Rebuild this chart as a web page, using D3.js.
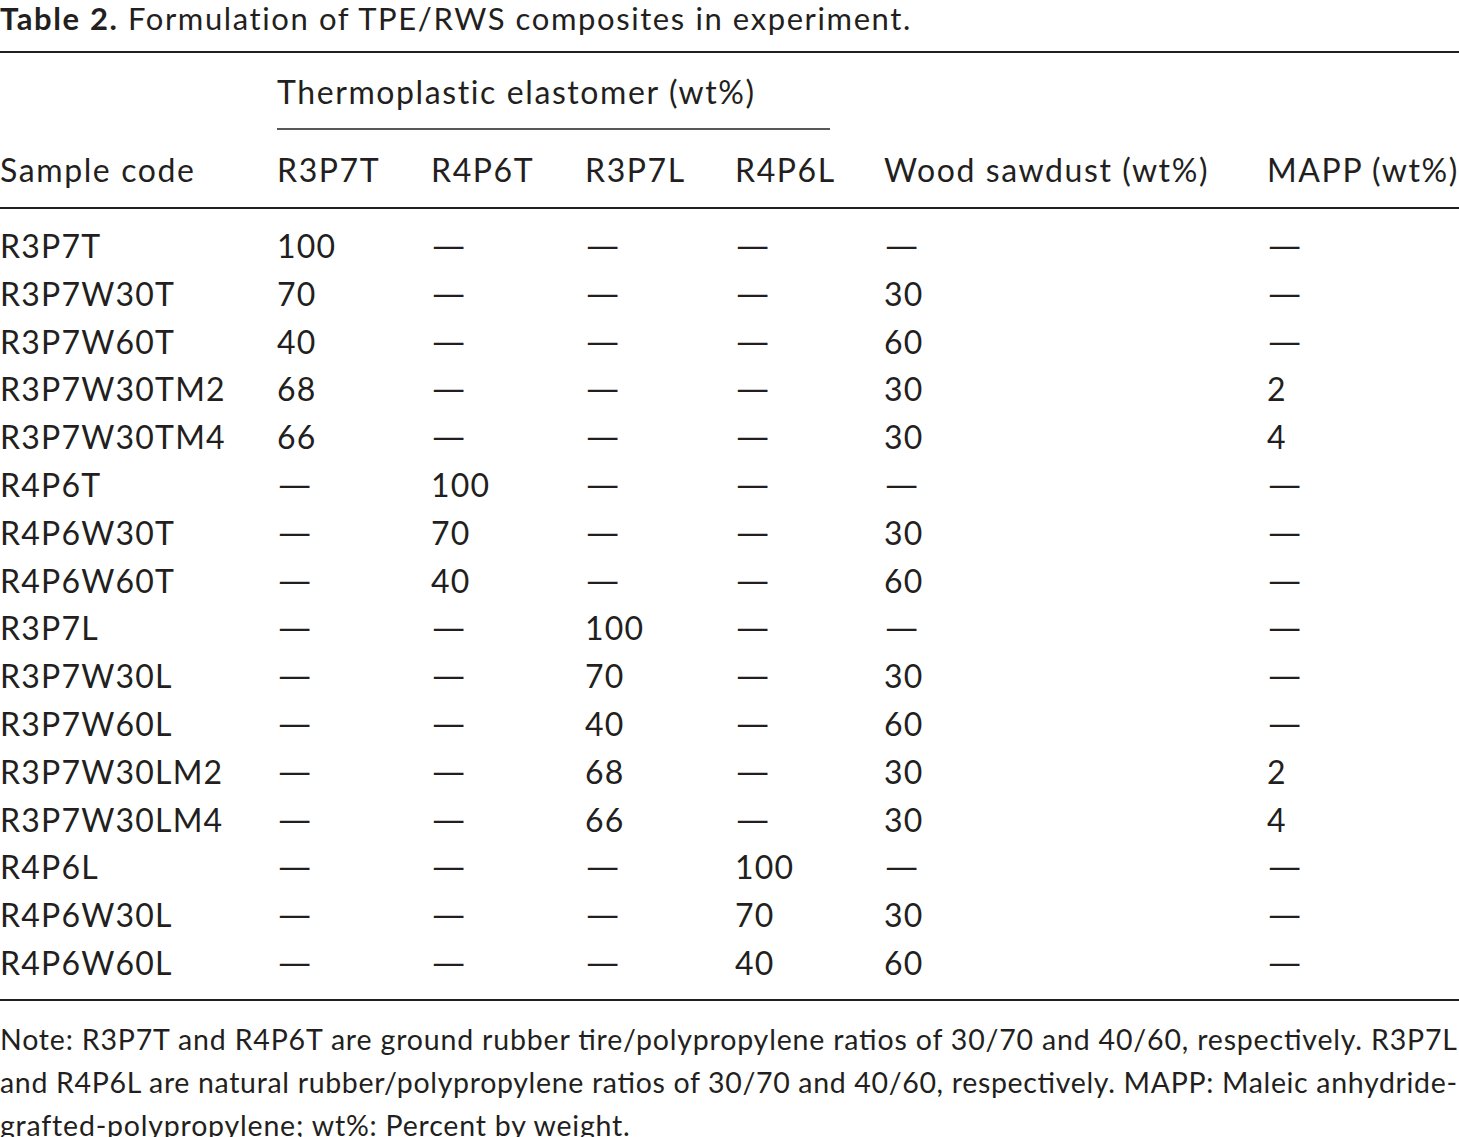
<!DOCTYPE html>
<html><head><meta charset="utf-8">
<script src="https://cdn.jsdelivr.net/npm/d3@7"></script>
<style>body{margin:0;background:#fff}</style>
</head><body>
<svg id="c" width="1459" height="1137"></svg>
<script>
const columns = ["Sample code","R3P7T","R4P6T","R3P7L","R4P6L","Wood sawdust (wt%)","MAPP (wt%)"];
const samples = ["R3P7T","R3P7W30T","R3P7W60T","R3P7W30TM2","R3P7W30TM4","R4P6T","R4P6W30T","R4P6W60T","R3P7L","R3P7W30L","R3P7W60L","R3P7W30LM2","R3P7W30LM4","R4P6L","R4P6W30L","R4P6W60L"];
const r3p7t = ["100","70","40","68","66","—","—","—","—","—","—","—","—","—","—","—"];
const r4p6t = ["—","—","—","—","—","100","70","40","—","—","—","—","—","—","—","—"];
const r3p7l = ["—","—","—","—","—","—","—","—","100","70","40","68","66","—","—","—"];
const r4p6l = ["—","—","—","—","—","—","—","—","—","—","—","—","—","100","70","40"];
const wood  = ["—","30","60","30","30","—","30","60","—","30","60","30","30","—","30","60"];
const mapp  = ["—","—","—","2","4","—","—","—","—","—","—","2","4","—","—","—"];
const noteLines = [
 "Note: R3P7T and R4P6T are ground rubber tire/polypropylene ratios of 30/70 and 40/60, respectively. R3P7L",
 "and R4P6L are natural rubber/polypropylene ratios of 30/70 and 40/60, respectively. MAPP: Maleic anhydride-",
 "grafted-polypropylene; wt%: Percent by weight."];

const svg = d3.select("#c");
const font = "Lato, 'Open Sans', sans-serif";
const colX = d3.scaleOrdinal().domain(d3.range(7)).range([0,277,431,585,735,884,1267]);
const rowY = d3.scaleLinear().domain([0,15]).range([247,964]);
const col = "#231f20";

const t = svg.append("text").attr("x",0).attr("y",30).attr("font-family",font).attr("font-size",31).attr("fill",col).attr("letter-spacing",1.6);
t.append("tspan").attr("font-weight","bold").text("Table 2.");
t.append("tspan").text("  Formulation of TPE/RWS composites in experiment.");

const line=(x1,x2,y,w)=>svg.append("line").attr("x1",x1).attr("x2",x2).attr("y1",y).attr("y2",y).attr("stroke",col).attr("stroke-width",w);
line(0,1459,52,2); line(277,830,129,1.5); line(0,1459,208,2); line(0,1459,1000,2);

svg.append("text").attr("x",277).attr("y",104).attr("font-family",font).attr("font-size",32).attr("letter-spacing",1.6).attr("fill",col).text("Thermoplastic elastomer (wt%)");
svg.selectAll(".h").data(columns).join("text").attr("x",(d,i)=>colX(i)).attr("y",182)
 .attr("font-family",font).attr("font-size",32).attr("letter-spacing",1.6).attr("fill",col).text(d=>d);

const rows = samples.map((s,i)=>[s,r3p7t[i],r4p6t[i],r3p7l[i],r4p6l[i],wood[i],mapp[i]]);
rows.forEach((r,ri)=>{
  svg.selectAll(".r"+ri).data(r).join("text").attr("x",(d,i)=>colX(i)).attr("y",rowY(ri)+11)
   .attr("font-family",font).attr("font-size",32).attr("letter-spacing",1.2).attr("fill",col)
   .each(function(d){ if(d==="—") d3.select(this).attr("textLength",37).attr("lengthAdjust","spacingAndGlyphs"); })
   .text(d=>d);
});
svg.selectAll(".n").data(noteLines).join("text").attr("x",0).attr("y",(d,i)=>1050+i*43)
 .attr("font-family",font).attr("font-size",28.5).attr("fill",col)
 .attr("textLength",(d,i)=>i<2?1457:null).attr("lengthAdjust","spacing")
 .attr("letter-spacing",(d,i)=>i==2?0.8:null).text(d=>d);
</script>
</body></html>
